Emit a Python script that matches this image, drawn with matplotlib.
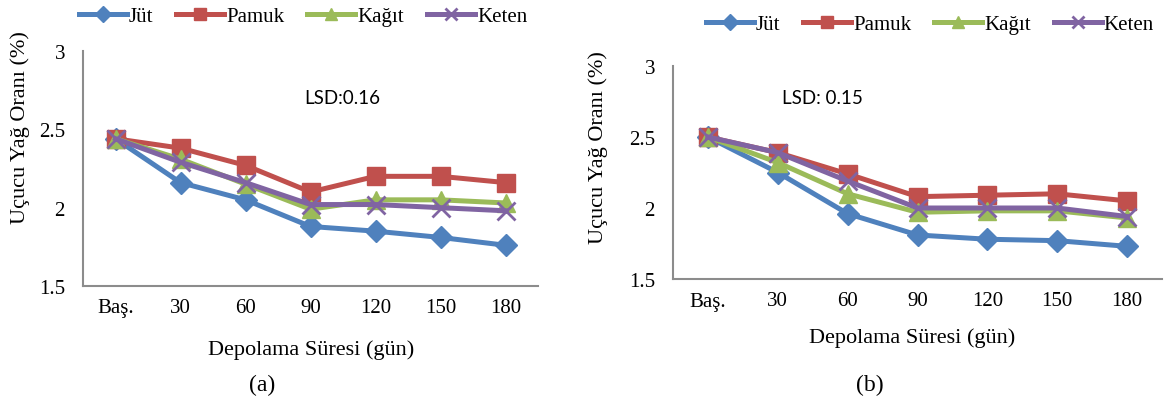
import numpy as np
import matplotlib.pyplot as plt
from matplotlib.lines import Line2D

days = ["Baş.", "30", "60", "90", "120", "150", "180"]

# panel (a)
jut_a = [2.44, 2.16, 2.05, 1.88, 1.85, 1.81, 1.76]
pamuk_a = [2.44, 2.38, 2.27, 2.10, 2.20, 2.20, 2.16]
kagit_a = [2.44, 2.31, 2.15, 1.99, 2.05, 2.05, 2.03]
keten_a = [2.44, 2.29, 2.16, 2.02, 2.02, 2.00, 1.98]

# panel (b)
jut_b = [2.50, 2.25, 1.96, 1.81, 1.78, 1.77, 1.73]
pamuk_b = [2.50, 2.39, 2.24, 2.08, 2.09, 2.10, 2.05]
kagit_b = [2.50, 2.32, 2.10, 1.97, 1.98, 1.98, 1.93]
keten_b = [2.50, 2.39, 2.19, 2.00, 2.00, 2.00, 1.94]

names = ["Jüt", "Pamuk", "Kağıt", "Keten"]
colors = ["#4F81BD", "#C0504D", "#9BBB59", "#8064A2"]
markers = ["D", "s", "^", "x"]
msizes = [11, 13, 13, 13]

serif = "Liberation Serif"

fig = plt.figure(figsize=(11.67, 4.06), dpi=100)
ax_a = fig.add_axes([83/1167, 1 - 287/406, 455/1167, 235/406])
ax_b = fig.add_axes([673/1167, 1 - 280/406, 489/1167, 213/406])

x = np.arange(len(days))

def draw(ax, series, lsd_text, lsd_xy):
    for vals, c, m, ms in zip(series, colors, markers, msizes):
        ax.plot(x, vals, color=c, lw=3.6, marker=m, ms=ms,
                mew=2 if m == "x" else 1, mec=c, mfc=c)
    ax.set_xlim(-0.5, 6.5)
    ax.set_ylim(1.5, 3.0)
    ax.set_yticks([1.5, 2, 2.5, 3])
    ax.set_yticklabels(["1.5", "2", "2.5", "3"])
    ax.set_xticks(x)
    ax.set_xticklabels(days)
    ax.tick_params(length=0, labelsize=15)
    ax.tick_params(axis="x", pad=9)
    ax.tick_params(axis="y", pad=13)
    for lab in ax.get_xticklabels() + ax.get_yticklabels():
        lab.set_family(serif)
    for s in ["top", "right"]:
        ax.spines[s].set_visible(False)
    for s in ["left", "bottom"]:
        ax.spines[s].set_color("#8C8C8C")
        ax.spines[s].set_linewidth(1.5)
    ax.text(lsd_xy[0], lsd_xy[1], lsd_text, transform=fig.transFigure,
            ha="center", va="center", fontsize=13.5, family="Lato")

draw(ax_a, [jut_a, pamuk_a, kagit_a, keten_a], "LSD:0.16",
     (342/1167, 1 - 98/406))
draw(ax_b, [jut_b, pamuk_b, kagit_b, keten_b], "LSD: 0.15",
     (822/1167, 1 - 99/406))

# axis titles and panel captions
fig.text(20/1167, 1 - 128/406, "Uçucu Yağ Oranı (%)", rotation=90,
         ha="center", va="center", fontsize=16, family=serif)
fig.text(598/1167, 1 - 148/406, "Uçucu Yağ Oranı (%)", rotation=90,
         ha="center", va="center", fontsize=16, family=serif)
fig.text(311/1167, 1 - 350/406, "Depolama Süresi (gün)",
         ha="center", va="center", fontsize=16, family=serif)
fig.text(912/1167, 1 - 338/406, "Depolama Süresi (gün)",
         ha="center", va="center", fontsize=16, family=serif)
fig.text(262/1167, 1 - 385/406, "(a)", ha="center", va="center",
         fontsize=17, family=serif)
fig.text(870/1167, 1 - 385/406, "(b)", ha="center", va="center",
         fontsize=17, family=serif)

handles = [Line2D([], [], color=c, lw=3.6, marker=m, ms=9 if m != "D" else 8,
                  mew=2 if m == "x" else 1, mec=c)
           for c, m in zip(colors, markers)]

for cx, cy in [(303/1167, 1 - 17/406), (930/1167, 1 - 25/406)]:
    fig.legend(handles, names, loc="center", bbox_to_anchor=(cx, cy),
               ncol=4, frameon=False, handlelength=2.3, handletextpad=0.1,
               columnspacing=1.1, prop={"family": serif, "size": 15})

fig.savefig("out.png", dpi=100)
